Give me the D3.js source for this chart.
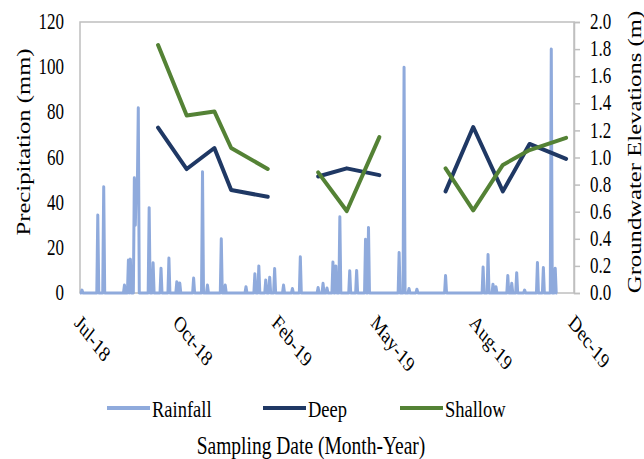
<!DOCTYPE html>
<html>
<head>
<meta charset="utf-8">
<script src="https://cdn.jsdelivr.net/npm/d3@7"></script>
<style>
  body { margin: 0; background: #fff; }
  svg { display: block; }
  text { font-family: "Liberation Serif", "Times New Roman", serif; fill: #000; }
</style>
</head>
<body>
<svg id="chart" width="644" height="459"></svg>
<script>
// Daily rainfall record; days not listed had no rain (0 mm).
const rainStart = "2018-07-19";
const rainEnd = "2019-11-14";
const rainDates = [
  "2018-07-21","2018-08-06","2018-08-12","2018-09-02","2018-09-06","2018-09-08",
  "2018-09-12","2018-09-13","2018-09-14","2018-09-15","2018-09-16","2018-09-27",
  "2018-10-01","2018-10-09","2018-10-17","2018-10-25","2018-10-28","2018-11-11",
  "2018-11-20","2018-11-25","2018-12-09","2018-12-13","2019-01-03","2019-01-12",
  "2019-01-16","2019-01-23","2019-01-27","2019-02-01","2019-02-10","2019-02-19",
  "2019-02-27","2019-03-17","2019-03-22","2019-03-26","2019-04-01","2019-04-04",
  "2019-04-08","2019-04-18","2019-04-25","2019-05-04","2019-05-07","2019-06-07",
  "2019-06-12","2019-06-17","2019-06-25","2019-07-24","2019-08-31","2019-09-05",
  "2019-09-10","2019-09-13","2019-09-25","2019-09-29","2019-10-04","2019-10-12",
  "2019-10-25","2019-10-31","2019-11-08","2019-11-12"
];
const rainMm = [
  1.3, 34.5, 47, 3.5, 14.6, 15,
  51, 30, 50, 45, 82, 37.8,
  13.4, 11, 15.5, 5, 4.4, 6.6,
  53.7, 3.5, 24, 3.5, 2.8, 8.5,
  12, 5.8, 7, 10.8, 3.5, 2,
  16, 2.4, 4.3, 2.2, 13.7, 12,
  33.8, 9.8, 10, 23.8, 29, 17.9,
  100, 2, 1.7, 7.7, 11.5, 17,
  3.9, 2.8, 7.7, 4.3, 9, 1.3,
  13.5, 11.3, 108, 11
];

// Groundwater sampling campaigns (m)
const sampleDates = [
  "2018-10-06","2018-11-04","2018-12-02","2018-12-19","2019-01-25",
  "2019-03-17","2019-04-15","2019-05-18",
  "2019-07-24","2019-08-21","2019-09-20","2019-10-17","2019-11-23"
];
const campaign = [1,1,1,1,1, 2,2,2, 3,3,3,3,3];
const deepM    = [1.22, 0.915, 1.07, 0.76, 0.71, 0.86, 0.92, 0.87, 0.75, 1.225, 0.75, 1.10, 0.99];
const shallowM = [1.83, 1.31, 1.34, 1.07, 0.915, 0.89, 0.605, 1.15, 0.92, 0.61, 0.945, 1.055, 1.145];

// Axes
const xDomain = ["2018-07-19", "2019-12-01"];
const xTickDates = ["2018-07-19","2018-10-27","2019-02-04","2019-05-15","2019-08-23","2019-12-01"];
const xTickLabels = ["Jul-18","Oct-18","Feb-19","May-19","Aug-19","Dec-19"];
const precipTicks = [0, 20, 40, 60, 80, 100, 120];
const elevTicks = [0, 0.2, 0.4, 0.6, 0.8, 1.0, 1.2, 1.4, 1.6, 1.8, 2.0];

const seriesNames = ["Rainfall", "Deep", "Shallow"];
const colors = { Rainfall: "#8faadc", Deep: "#1f3864", Shallow: "#548235" };

const parse = d3.utcParse("%Y-%m-%d");
const STRETCH = 1.3;

const plot = { left: 80, right: 574, top: 22, bottom: 293 };
const svg = d3.select("#chart");

const x = d3.scaleUtc().domain(xDomain.map(parse)).range([plot.left, plot.right]);
const yL = d3.scaleLinear().domain([0, 120]).range([plot.bottom, plot.top]);
const yR = d3.scaleLinear().domain([0, 2]).range([plot.bottom, plot.top]);

// Plot frame
svg.append("rect")
  .attr("x", plot.left).attr("y", plot.top)
  .attr("width", plot.right - plot.left).attr("height", plot.bottom - plot.top)
  .attr("fill", "none").attr("stroke", "#bfbfbf").attr("stroke-width", 1.5);

// Left axis (precipitation)
const gL = svg.append("g").attr("transform", `translate(${plot.left},0)`)
  .call(d3.axisLeft(yL).tickValues(precipTicks).tickSize(0).tickPadding(16));
gL.select(".domain").remove();
gL.selectAll(".tick text")
  .style("font-size", "17px")
  .attr("dy", "0.3em")
  .attr("transform", `scale(1,${STRETCH})`);

// Right axis (groundwater elevation)
const gR = svg.append("g").attr("transform", `translate(${plot.right},0)`)
  .call(d3.axisRight(yR).tickValues(elevTicks).tickSize(6).tickPadding(10).tickFormat(d3.format(".1f")));
gR.select(".domain").attr("stroke", "#bfbfbf").attr("stroke-width", 1.5);
gR.selectAll(".tick line").attr("stroke", "#bfbfbf").attr("stroke-width", 1.5);
gR.selectAll(".tick text")
  .style("font-size", "17px")
  .attr("dy", "0.3em")
  .attr("transform", `scale(1,${STRETCH})`);

// Bottom axis (dates)
const gB = svg.append("g").attr("transform", `translate(0,${plot.bottom})`)
  .call(d3.axisBottom(x).tickValues(xTickDates.map(parse)).tickSize(0)
    .tickFormat((d, i) => xTickLabels[i]));
gB.select(".domain").remove();
gB.selectAll(".tick text")
  .style("font-size", "17px")
  .attr("x", 0).attr("y", 0).attr("dy", 0)
  .attr("text-anchor", "start")
  .attr("transform", `translate(-7,31) scale(1,${STRETCH}) rotate(45)`);

// Rainfall daily series
const rainByDay = new Map(rainDates.map((d, i) => [d, rainMm[i]]));
const fmt = d3.utcFormat("%Y-%m-%d");
const rainSeries = d3.utcDay.range(parse(rainStart), d3.utcDay.offset(parse(rainEnd), 1))
  .map(d => ({ date: d, mm: rainByDay.get(fmt(d)) || 0 }));

svg.append("path")
  .datum(rainSeries)
  .attr("fill", "none")
  .attr("stroke", colors.Rainfall)
  .attr("stroke-width", 3)
  .attr("stroke-linejoin", "round")
  .attr("d", d3.line().x(d => x(d.date)).y(d => yL(d.mm)));

// Groundwater lines, broken between campaigns
const samples = sampleDates.map((d, i) => ({ date: parse(d), c: campaign[i], deep: deepM[i], shallow: shallowM[i] }));
const campaigns = d3.groups(samples, d => d.c).map(g => g[1]);

[["Deep", "deep"], ["Shallow", "shallow"]].forEach(([name, key]) => {
  svg.append("g").selectAll("path")
    .data(campaigns)
    .join("path")
    .attr("fill", "none")
    .attr("stroke", colors[name])
    .attr("stroke-width", 4)
    .attr("stroke-linejoin", "round")
    .attr("stroke-linecap", "round")
    .attr("d", d3.line().x(d => x(d.date)).y(d => yR(d[key])));
});

// Axis titles
svg.append("g").attr("transform", `translate(30,142) scale(1,${STRETCH}) rotate(-90)`)
  .append("text").attr("text-anchor", "middle").style("font-size", "19px")
  .text("Precipitation (mm)");

svg.append("g").attr("transform", `translate(641,152) scale(1,${STRETCH}) rotate(-90)`)
  .append("text").attr("text-anchor", "middle").style("font-size", "19px")
  .text("Groundwater Elevations (m)");

svg.append("g").attr("transform", `translate(311,454) scale(1,${STRETCH})`)
  .append("text").attr("text-anchor", "middle").style("font-size", "19.5px")
  .text("Sampling Date (Month-Year)");

// Legend
const legendX = [107, 263, 400];
const legend = svg.append("g").selectAll("g")
  .data(seriesNames)
  .join("g")
  .attr("transform", (d, i) => `translate(${legendX[i]},408)`);
legend.append("line")
  .attr("x1", 0).attr("x2", 43).attr("y1", 0).attr("y2", 0)
  .attr("stroke", d => colors[d]).attr("stroke-width", 4);
legend.append("g")
  .attr("transform", `translate(45,8.5) scale(1,${STRETCH})`)
  .append("text").style("font-size", "18.5px")
  .text(d => d);
</script>
</body>
</html>
